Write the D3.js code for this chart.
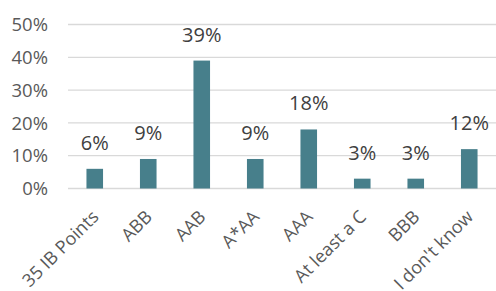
<!DOCTYPE html>
<html><head><meta charset="utf-8">
<script src="https://cdn.jsdelivr.net/npm/d3@7"></script>
<style>body{margin:0;background:#fff}svg{display:block}</style>
</head><body><svg id="c" width="496" height="291"></svg>
<script>
const categories = ["35 IB Points","ABB","AAB","A*AA","AAA","At least a C","BBB","I don't know"];
const values = [0.06,0.09,0.39,0.09,0.18,0.03,0.03,0.12];
const yTicks = [0,0.1,0.2,0.3,0.4,0.5];

const svg = d3.select("#c");
const font = "'Open Sans', sans-serif";
const x = d3.scaleBand().domain(categories).range([68,496]).paddingInner(0.69).paddingOuter(0.345);
const y = d3.scaleLinear().domain([0,0.5]).range([188.5,24.5]);

svg.append("g").selectAll("line").data(yTicks).join("line")
  .attr("x1",68).attr("x2",496).attr("y1",d=>y(d)).attr("y2",d=>y(d))
  .attr("stroke","#d9d9d9").attr("stroke-width",1.3);

svg.append("g").selectAll("text").data(yTicks).join("text")
  .attr("x",48).attr("y",d=>y(d)).attr("dy","0.357em").attr("text-anchor","end")
  .attr("font-family",font).attr("font-size",18.5).attr("fill","#595959")
  .text(d=>d3.format(".0%")(d));

svg.append("g").selectAll("rect").data(values).join("rect")
  .attr("x",(d,i)=>x(categories[i])).attr("width",x.bandwidth())
  .attr("y",d=>y(d)).attr("height",d=>y(0)-y(d))
  .attr("fill","#477f8b");

svg.append("g").selectAll("text").data(values).join("text")
  .attr("x",(d,i)=>x(categories[i])+x.bandwidth()/2).attr("y",d=>y(d)-19)
  .attr("text-anchor","middle")
  .attr("font-family",font).attr("font-size",20).attr("fill","#404040")
  .text(d=>d3.format(".0%")(d));

svg.append("g").selectAll("text").data(categories).join("text")
  .attr("transform",(d)=>`translate(${x(d)+x.bandwidth()/2+5},218) rotate(-45)`)
  .attr("text-anchor","end")
  .attr("font-family",font).attr("font-size",18).attr("fill","#595959")
  .text(d=>d);
</script></body></html>
